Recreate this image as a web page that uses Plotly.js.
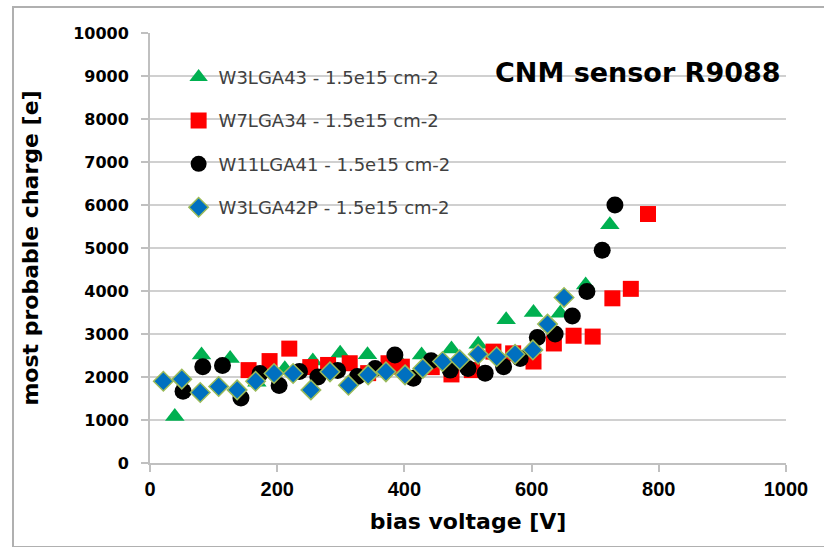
<!DOCTYPE html>
<html>
<head>
<meta charset="utf-8">
<script src="https://cdn.plot.ly/plotly-3.0.1.min.js"></script>
<style>
  html, body { margin: 0; padding: 0; background: #ffffff; }
  #wrap { position: relative; width: 824px; height: 547px; overflow: hidden; }
  #frame { position: absolute; left: 12px; top: 6px; width: 900px; height: 538px;
           border-left: 2px solid #b0b0b0; border-top: 2px solid #b0b0b0; border-bottom: 2px solid #b0b0b0; }
  #chart { position: absolute; left: 0; top: 0; width: 824px; height: 547px; }
</style>
</head>
<body>
<div id="wrap">
  <div id="frame"></div>
  <div id="chart"></div>
</div>
<script>
// Series names
const seriesNames = [
  "W3LGA43 - 1.5e15 cm-2",
  "W7LGA34 - 1.5e15 cm-2",
  "W11LGA41 - 1.5e15 cm-2",
  "W3LGA42P - 1.5e15 cm-2"
];

// W3LGA43 (green triangles)
const w3lga43V = [39, 81, 126, 168, 212, 256, 299, 342, 393, 427, 474, 516, 560, 603, 645, 685, 723];
const w3lga43Q = [1080, 2510, 2430, 1880, 2190, 2370, 2550, 2520, 2350, 2510, 2650, 2760, 3330, 3500, 3480, 4140, 5540];

// W7LGA34 (red squares)
const w7lga34V = [155, 188, 219, 252, 280, 314, 343, 375, 396, 443, 474, 506, 540, 571, 603, 635, 666, 696, 727, 756, 783];
const w7lga34Q = [2160, 2370, 2660, 2230, 2280, 2320, 2090, 2320, 2240, 2230, 2060, 2160, 2590, 2550, 2360, 2780, 2960, 2940, 3830, 4050, 5790];

// W11LGA41 (black circles)
const w11lga41V = [52, 83, 114, 143, 173, 203, 235, 264, 295, 326, 354, 385, 414, 442, 472, 500, 527, 556, 582, 609, 637, 664, 687, 711, 731];
const w11lga41Q = [1670, 2240, 2270, 1510, 2080, 1800, 2130, 2000, 2150, 2010, 2200, 2510, 1970, 2380, 2160, 2200, 2090, 2240, 2430, 2920, 3000, 3420, 3990, 4950, 6000];

// W3LGA42P (blue diamonds)
const w3lga42pV = [21, 50, 79, 108, 137, 166, 195, 225, 253, 283, 312, 343, 371, 401, 429, 460, 487, 516, 545, 574, 602, 625, 651];
const w3lga42pQ = [1900, 1950, 1640, 1780, 1700, 1900, 2080, 2080, 1700, 2120, 1810, 2050, 2120, 2050, 2200, 2360, 2400, 2530, 2470, 2530, 2630, 3230, 3850];

const chartTitle = "CNM sensor R9088";
const xTitle = "bias voltage [V]";
const yTitle = "most probable charge [e]";

const traces = [
  { x: w3lga43V, y: w3lga43Q, name: seriesNames[0], legendgroup: "a",
    type: "scatter", mode: "markers",
    marker: { symbol: "triangle-up", size: 17, color: "#00b050" } },
  { x: w7lga34V, y: w7lga34Q, name: seriesNames[1], legendgroup: "b",
    type: "scatter", mode: "markers",
    marker: { symbol: "square", size: 16, color: "#ff0000" } },
  { x: w11lga41V, y: w11lga41Q, name: seriesNames[2], legendgroup: "c",
    type: "scatter", mode: "markers",
    marker: { symbol: "circle", size: 17, color: "#000000" } },
  { x: w3lga42pV, y: w3lga42pQ, name: seriesNames[3], legendgroup: "d",
    type: "scatter", mode: "markers",
    marker: { symbol: "diamond", size: 15, color: "#0070c0",
              line: { color: "#9bbb59", width: 1.5 } } }
];

const layout = {
  width: 824, height: 547,
  margin: { l: 150, r: 38, t: 33, b: 84 },
  paper_bgcolor: "rgba(0,0,0,0)",
  plot_bgcolor: "rgba(0,0,0,0)",
  showlegend: true,
  legend: {
    x: 0.045, y: 0.94, xanchor: "left", yanchor: "top",
    bgcolor: "rgba(0,0,0,0)",
    font: { family: "DejaVu Sans", size: 18, color: "#404040" },
    traceorder: "grouped",
    tracegroupgap: 17
  },
  xaxis: {
    range: [0, 1000], dtick: 200, tick0: 0,
    showgrid: false, zeroline: false,
    showline: true, linecolor: "#c0c0c0", linewidth: 2,
    ticks: "outside", ticklen: 7, tickcolor: "#c0c0c0", tickwidth: 2,
    tickformat: "d",
    tickfont: { family: "Liberation Sans, Arial, sans-serif", size: 20, color: "#000000", weight: 700 },
    title: { text: xTitle, font: { family: "DejaVu Sans", size: 22, color: "#000000", weight: 700 }, standoff: 15 }
  },
  yaxis: {
    range: [0, 10000], dtick: 1000, tick0: 0,
    showgrid: true, gridcolor: "#d0d0d0", gridwidth: 2,
    zeroline: false,
    showline: true, linecolor: "#c0c0c0", linewidth: 2,
    ticks: "outside", ticklen: 7, tickcolor: "#c0c0c0", tickwidth: 2,
    ticklabelstandoff: 9,
    tickformat: "d",
    tickfont: { family: "DejaVu Sans", size: 16, color: "#000000", weight: 700 },
    title: { text: yTitle, font: { family: "DejaVu Sans", size: 22, color: "#000000", weight: 700 }, standoff: 28 }
  },
  annotations: [
    { text: "<b>" + chartTitle + "</b>", xref: "paper", yref: "paper",
      x: 0.995, y: 0.907, xanchor: "right", yanchor: "middle", showarrow: false,
      font: { family: "DejaVu Sans", size: 27, color: "#000000" } }
  ]
};

Plotly.newPlot("chart", traces, layout, { displayModeBar: false, staticPlot: true });
</script>
</body>
</html>
